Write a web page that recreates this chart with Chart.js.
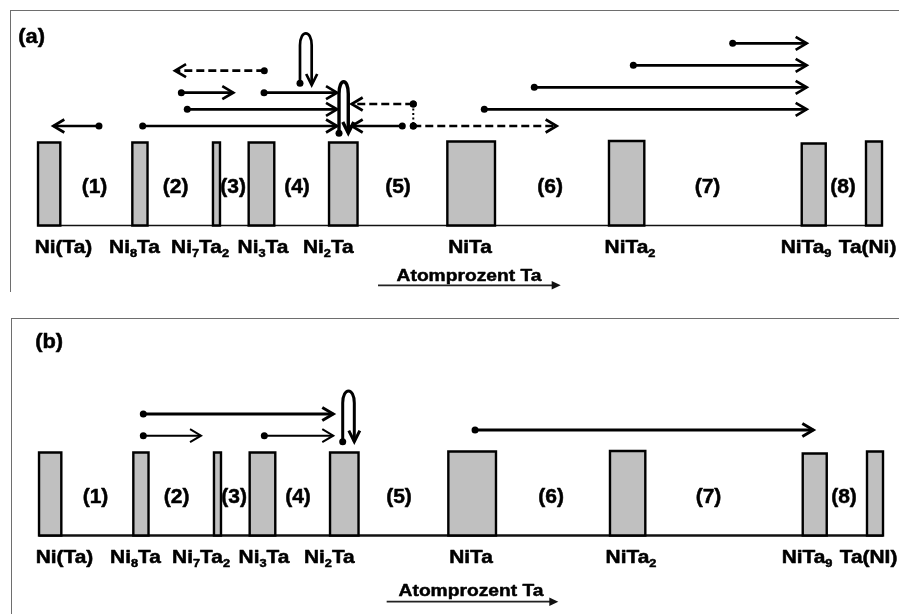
<!DOCTYPE html>
<html>
<head>
<meta charset="utf-8">
<script src="https://cdn.jsdelivr.net/npm/chart.js@4/dist/chart.umd.min.js"></script>
<style>
  html, body { margin: 0; padding: 0; background: #fff; overflow: hidden; width: 899px; height: 614px; }
  .frame { position: absolute; border-top: 1.5px solid #6e6e6e; border-left: 1.5px solid #6e6e6e; }
  canvas { position: absolute; }
</style>
</head>
<body>
<div class="frame" style="left:10px; top:10px; width:900px; height:281px"></div>
<div class="frame" style="left:11px; top:317.5px; width:900px; height:300px"></div>
<canvas id="panelA" width="899" height="300" style="left:0; top:0"></canvas>
<canvas id="panelB" width="899" height="300" style="left:1px; top:310px"></canvas>
<script>
const FONT = '"Liberation Sans", Arial, Helvetica, sans-serif';

// Phases along the Ni–Ta line (schematic position: 0 = Ni side, 100 = Ta side).
// "_" marks the following character as a subscript.
const phaseLabelsA = ['Ni(Ta)', 'Ni_8Ta', 'Ni_7Ta_2', 'Ni_3Ta', 'Ni_2Ta', 'NiTa', 'NiTa_2', 'NiTa_9', 'Ta(Ni)'];
const phaseLabelsB = ['Ni(Ta)', 'Ni_8Ta', 'Ni_7Ta_2', 'Ni_3Ta', 'Ni_2Ta', 'NiTa', 'NiTa_2', 'NiTa_9', 'Ta(NI)'];
const phaseLeft   = [4.23, 14.72, 23.69, 27.66, 36.60, 49.76, 67.74, 89.18, 96.33];
const phaseRight  = [6.71, 16.41, 24.47, 30.51, 39.77, 55.06, 71.67, 91.85, 98.11];
const phaseHeight = [83, 83, 83, 83, 83, 84, 84.5, 82, 84];
const phaseLabelX = [7.06, 14.96, 22.25, 29.25, 36.52, 52.28, 70.08, 89.66, 96.50];

// Two-phase fields between neighbouring phases
const regionLabels = ['(1)', '(2)', '(3)', '(4)', '(5)', '(6)', '(7)', '(8)'];
const regionX      = [10.51, 19.54, 25.94, 33.04, 44.27, 61.20, 78.70, 93.77];

// Panel (a): reaction paths (start dot -> arrow tip)
const arrowsAFrom  = [11.01, 15.87, 20.83, 20.17, 29.40, 29.37, 45.97, 44.75, 45.97, 53.87, 59.43, 70.45, 81.50];
const arrowsATo    = [5.93, 37.49, 37.49, 25.95, 19.47, 37.49, 39.12, 39.12, 61.92, 89.73, 89.73, 89.73, 89.73];
const arrowsALevel = [99.5, 99.5, 116.2, 132.8, 154.8, 132.8, 121.5, 99.5, 99.5, 116.2, 138.2, 160.2, 182.2];
const arrowsAStyle = ['solid', 'solid', 'solid', 'solid', 'dash', 'solid', 'dash', 'solid', 'dash', 'solid', 'solid', 'solid', 'solid'];
const arrowsAWidth = [2.7, 2.7, 2.7, 2.7, 2.7, 2.7, 2.7, 2.7, 2.7, 2.7, 2.7, 2.7, 2.7];
// dotted link between the two dashed paths
const linkAX = [45.97];
const linkAFrom = [121.5];
const linkATo = [99.5];
// Panel (a): loops (up, over and back down)
const loopsALeft  = [33.37, 37.71];
const loopsARight = [34.67, 38.74];
const loopsAStart = [142.2, 92.2];
const loopsATop   = [192.2, 143.8];
const loopsAEnd   = [140.5, 92.5];
const loopsAWidth = [2.7, 3.4];

// Panel (b)
const arrowsBFrom  = [15.83, 15.83, 29.29, 52.73];
const arrowsBTo    = [36.96, 22.25, 36.96, 90.36];
const arrowsBLevel = [121.5, 99.8, 99.8, 105.5];
const arrowsBStyle = ['solid', 'solid', 'solid', 'solid'];
const arrowsBWidth = [3, 2, 2, 3];
const loopsBLeft  = [38.01];
const loopsBRight = [39.30];
const loopsBStart = [93.8];
const loopsBTop   = [144.5];
const loopsBEnd   = [93.8];
const loopsBWidth = [3];

function buildDatasets(p) {
  const ds = [];
  // composition line
  ds.push({
    data: [{ x: phaseLeft[0], y: 0 }, { x: phaseRight[phaseRight.length - 1], y: 0 }],
    showLine: true, borderColor: '#111', borderWidth: p.baseWidth, pointRadius: 0, order: 5
  });
  // phase bars: grey body + black outline
  phaseLeft.forEach((l, i) => {
    const r = phaseRight[i], h = phaseHeight[i];
    ds.push({
      data: [{ x: l, y: h }, { x: r, y: h }],
      showLine: true, fill: 'origin', backgroundColor: '#c0c0c0',
      borderColor: 'rgba(0,0,0,0)', borderWidth: 1, pointRadius: 0, order: 4
    });
    ds.push({
      data: [{ x: l, y: 0 }, { x: l, y: h }, { x: r, y: h }, { x: r, y: 0 }, { x: l, y: 0 }],
      showLine: true, borderColor: '#000', borderWidth: 2.4, pointRadius: 0,
      borderJoinStyle: 'miter', borderCapStyle: 'square', order: 3
    });
  });
  // straight paths
  p.from.forEach((f, i) => {
    ds.push({
      data: [{ x: f, y: p.level[i] }, { x: p.to[i], y: p.level[i] }],
      showLine: true, borderColor: '#000', borderWidth: p.width[i],
      borderDash: p.style[i] === 'dash' ? [8, 4] : [],
      pointRadius: [3.5, 0], pointBackgroundColor: '#000', pointBorderWidth: 0,
      head: true, order: 1
    });
  });
  // dotted links
  (p.linkX || []).forEach((x, i) => {
    ds.push({
      data: [{ x: x, y: p.linkFrom[i] }, { x: x, y: p.linkTo[i] }],
      showLine: true, borderColor: '#000', borderWidth: 2, borderDash: [2, 2.5],
      pointRadius: [3.5, 3.5], pointBackgroundColor: '#000', pointBorderWidth: 0, order: 2
    });
  });
  return ds;
}

function chevron(ctx, x0, y0, x1, y1, w, len, spread) {
  const dx = x1 - x0, dy = y1 - y0, d = Math.hypot(dx, dy) || 1;
  const ux = dx / d, uy = dy / d, nx = -uy, ny = ux;
  ctx.save();
  ctx.setLineDash([]);
  ctx.lineWidth = w;
  ctx.strokeStyle = '#000';
  ctx.lineJoin = 'miter';
  ctx.lineCap = 'butt';
  ctx.beginPath();
  ctx.moveTo(x1 - ux * len + nx * spread, y1 - uy * len + ny * spread);
  ctx.lineTo(x1, y1);
  ctx.lineTo(x1 - ux * len - nx * spread, y1 - uy * len - ny * spread);
  ctx.stroke();
  ctx.restore();
}

function richText(ctx, str, cx, cy, size, sx, mid) {
  const runs = [];
  for (let i = 0; i < str.length; i++) {
    if (str[i] === '_') { runs.push({ t: str[i + 1], sub: true }); i++; }
    else if (runs.length && !runs[runs.length - 1].sub) runs[runs.length - 1].t += str[i];
    else runs.push({ t: str[i], sub: false });
  }
  const subSize = Math.round(size * 0.62);
  let total = 0;
  runs.forEach(r => {
    ctx.font = `bold ${r.sub ? subSize : size}px ${FONT}`;
    r.w = ctx.measureText(r.t).width;
    total += r.w;
  });
  ctx.save();
  ctx.translate(cx, cy);
  ctx.scale(sx, 1);
  ctx.fillStyle = '#000';
  ctx.strokeStyle = '#000';
  ctx.lineWidth = 0.5;
  ctx.lineJoin = 'round';
  ctx.textAlign = 'left';
  ctx.textBaseline = 'alphabetic';
  const base = size * mid;
  let x = -total / 2;
  runs.forEach(r => {
    ctx.font = `bold ${r.sub ? subSize : size}px ${FONT}`;
    const y = r.sub ? base + size * 0.24 : base;
    ctx.fillText(r.t, x, y);
    ctx.strokeText(r.t, x, y);
    x += r.w;
  });
  ctx.restore();
}

function diagramPlugin(p) {
  return {
    id: 'diagram',
    afterDatasetsDraw(chart) {
      const ctx = chart.ctx, xs = chart.scales.x, ys = chart.scales.y;
      // arrow heads on straight paths
      chart.data.datasets.forEach((ds, i) => {
        if (!ds.head) return;
        const pts = chart.getDatasetMeta(i).data;
        const a = pts[pts.length - 2], b = pts[pts.length - 1];
        chevron(ctx, a.x, a.y, b.x, b.y, ds.borderWidth, 11, 6.5);
      });
      // loops
      p.loopLeft.forEach((l, i) => {
        const xl = xs.getPixelForValue(l), xr = xs.getPixelForValue(p.loopRight[i]);
        const yS = ys.getPixelForValue(p.loopStart[i]);
        const yT = ys.getPixelForValue(p.loopTop[i]);
        const yE = ys.getPixelForValue(p.loopEnd[i]);
        ctx.save();
        ctx.lineWidth = p.loopWidth[i];
        ctx.strokeStyle = '#000';
        ctx.beginPath();
        ctx.moveTo(xl, yS);
        ctx.lineTo(xl, yT + 12);
        ctx.bezierCurveTo(xl, yT - 4, xr, yT - 4, xr, yT + 12);
        ctx.lineTo(xr, yE);
        ctx.stroke();
        ctx.fillStyle = '#000';
        ctx.beginPath();
        ctx.arc(xl, yS, 3.5, 0, Math.PI * 2);
        ctx.fill();
        ctx.restore();
        chevron(ctx, xr, yE - 10, xr, yE, p.loopWidth[i], 11, 5.5);
      });
      // phase names
      p.labels.forEach((t, i) => {
        richText(ctx, t, xs.getPixelForValue(phaseLabelX[i]), ys.getPixelForValue(-21.2), 18, 1.16, 0.358);
      });
      // two-phase field numbers
      regionLabels.forEach((t, i) => {
        richText(ctx, t, xs.getPixelForValue(regionX[i]), ys.getPixelForValue(37.5), 21, 1.0, 0.26);
      });
      // panel letter
      richText(ctx, p.letter, xs.getPixelForValue(p.letterX), ys.getPixelForValue(p.letterY), 19.5, 1.12, 0.26);
      // composition direction
      richText(ctx, 'Atomprozent Ta', xs.getPixelForValue(p.axisTextX), ys.getPixelForValue(p.axisTextY), 17, 1.13, 0.358);
      const ax0 = xs.getPixelForValue(p.axisFrom), ax1 = xs.getPixelForValue(p.axisTo);
      const ay = ys.getPixelForValue(p.axisY);
      ctx.save();
      ctx.strokeStyle = '#222';
      ctx.fillStyle = '#111';
      ctx.lineWidth = 1.8;
      ctx.beginPath();
      ctx.moveTo(ax0, ay);
      ctx.lineTo(ax1 - 8, ay);
      ctx.stroke();
      ctx.beginPath();
      ctx.moveTo(ax1, ay);
      ctx.lineTo(ax1 - 9, ay - 4.2);
      ctx.lineTo(ax1 - 9, ay + 4.2);
      ctx.closePath();
      ctx.fill();
      ctx.restore();
    }
  };
}

function makePanel(id, p) {
  return new Chart(document.getElementById(id), {
    type: 'scatter',
    data: { datasets: buildDatasets(p) },
    options: {
      responsive: false,
      animation: false,
      devicePixelRatio: 1,
      events: [],
      layout: { padding: 0, autoPadding: false },
      elements: { line: { tension: 0 } },
      scales: {
        x: { type: 'linear', min: 0, max: 100, display: false },
        y: { type: 'linear', min: -74.5, max: 225.5, display: false }
      },
      plugins: { legend: { display: false }, tooltip: { enabled: false } }
    },
    plugins: [diagramPlugin(p)]
  });
}

makePanel('panelA', {
  labels: phaseLabelsA, baseWidth: 1.3,
  from: arrowsAFrom, to: arrowsATo, level: arrowsALevel, style: arrowsAStyle, width: arrowsAWidth,
  linkX: linkAX, linkFrom: linkAFrom, linkTo: linkATo,
  loopLeft: loopsALeft, loopRight: loopsARight, loopStart: loopsAStart, loopTop: loopsATop, loopEnd: loopsAEnd, loopWidth: loopsAWidth,
  letter: '(a)', letterX: 3.52, letterY: 187.7,
  axisTextX: 52.17, axisTextY: -49.5, axisFrom: 42.05, axisTo: 62.37, axisY: -59.8
});

makePanel('panelB', {
  labels: phaseLabelsB, baseWidth: 2.6,
  from: arrowsBFrom, to: arrowsBTo, level: arrowsBLevel, style: arrowsBStyle, width: arrowsBWidth,
  loopLeft: loopsBLeft, loopRight: loopsBRight, loopStart: loopsBStart, loopTop: loopsBTop, loopEnd: loopsBEnd, loopWidth: loopsBWidth,
  letter: '(b)', letterX: 5.36, letterY: 193,
  axisTextX: 52.28, axisTextY: -54.5, axisFrom: 42.90, axisTo: 61.99, axisY: -66.2
});
</script>
</body>
</html>
